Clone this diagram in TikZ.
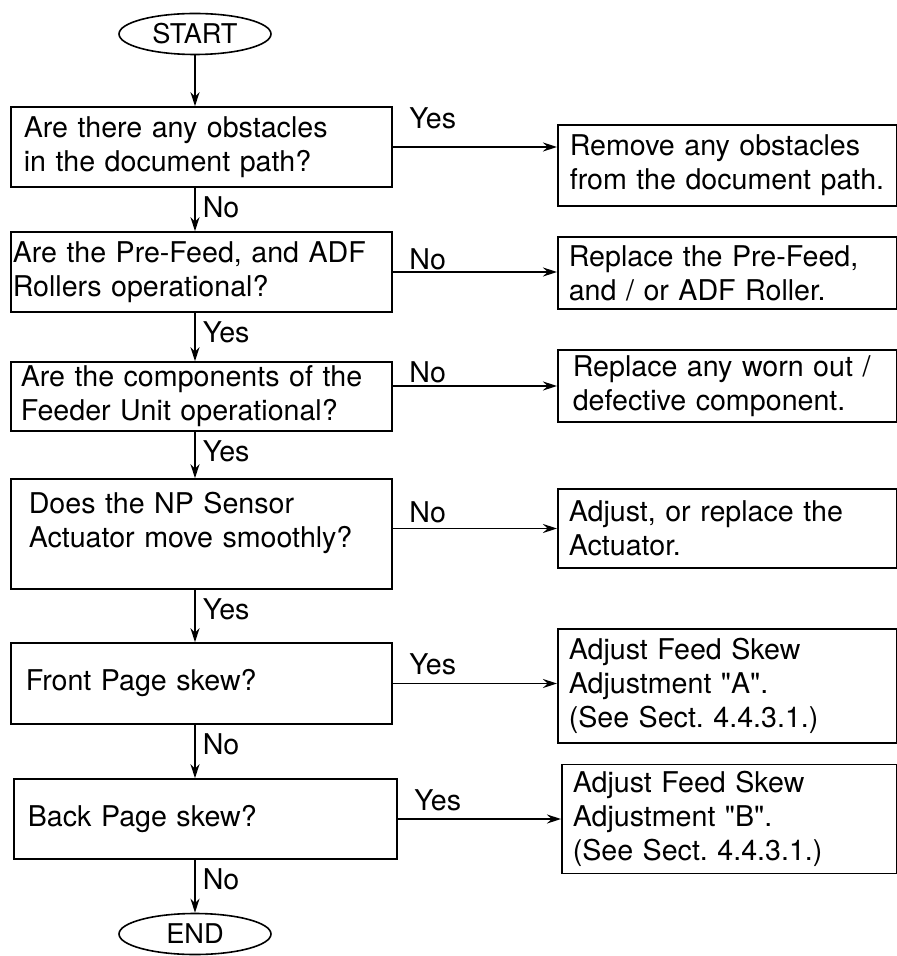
\documentclass[tikz,border=0pt]{standalone}
\usepackage{fontspec}
\setmainfont{TeX Gyre Heros}[Ligatures=TeXOff]
\usetikzlibrary{arrows.meta,shapes.geometric}
\frenchspacing
\begin{document}
\begin{tikzpicture}[x=0.5pt, y=-0.5pt, >={Stealth[length=7pt,width=4.5pt]}, line width=0.8pt,
  every node/.style={font=\fontsize{14.3}{17}\selectfont},
  term/.style={draw, ellipse, minimum width=76pt, minimum height=20.5pt, inner sep=0pt, font=\fontsize{13.6}{15}\selectfont},
  qbox/.style={draw, anchor=west, align=left, inner ysep=0pt},
  abox/.style={draw, anchor=west, align=left, inner ysep=0pt},
  vlbl/.style={pos=0, anchor=north west, inner sep=0pt, xshift=3.5pt, yshift=-4pt},
  hlbl/.style={pos=0, anchor=base west, inner sep=0pt, xshift=8pt}]
\useasboundingbox (0,0) rectangle (897,956);
% left column
\node[term] (start) at (195,34) {START};
\node[qbox, text width=177.5pt, inner xsep=6.5pt, minimum height=40pt] (q1) at (10,147) {Are there any obstacles\\in the document path?};
\node[qbox, text width=188.5pt, inner xsep=1pt, minimum height=40pt] (q2) at (10,272) {Are the Pre-Feed, and ADF\\Rollers operational?};
\node[qbox, text width=180.5pt, inner xsep=5pt, minimum height=34.5pt] (q3) at (10,396.5) {Are the components of the\\Feeder Unit operational?};
\node[qbox, text width=172.5pt, inner xsep=9pt, minimum height=55pt] (q4) at (10,534) {Does the NP Sensor\\Actuator move smoothly?\\[-3pt]\mbox{}};
\node[qbox, text width=175.5pt, inner xsep=7.5pt, minimum height=40.5pt] (q5) at (10,683.5) {Front Page skew?};
\node[qbox, text width=177.5pt, inner xsep=7pt, minimum height=40pt] (q6) at (13,819) {Back Page skew?};
\node[term] (stop) at (195,934) {END};
% right column
\node[abox, text width=157.5pt, inner xsep=6pt, minimum height=40.5pt] (a1) at (557,165.5) {Remove any obstacles\\from the document path.};
\node[abox, text width=158.5pt, inner xsep=5.5pt, minimum height=36pt] (a2) at (557,273) {Replace the Pre-Feed,\\and / or ADF Roller.};
\node[abox, text width=154.5pt, inner xsep=7.5pt, minimum height=36pt] (a3) at (557,386) {Replace any worn out /\\defective component.};
\node[abox, text width=158.5pt, inner xsep=5.5pt, minimum height=39.5pt] (a4) at (557,528.5) {Adjust, or replace the\\Actuator.};
\node[abox, text width=158.5pt, inner xsep=5.5pt, minimum height=57pt] (a5) at (557,686) {Adjust Feed Skew\\Adjustment "A".\\(See Sect. 4.4.3.1.)};
\node[abox, text width=156.5pt, inner xsep=5.5pt, minimum height=54.5pt] (a6) at (561,819) {Adjust Feed Skew\\Adjustment "B".\\(See Sect. 4.4.3.1.)};
% down the chart
\draw[->] (start.south) -- (start.south |- q1.north);
\draw[->] (q1.south -| start) -- node[vlbl] {No} (q2.north -| start);
\draw[->] (q2.south -| start) -- node[vlbl] {Yes} (q3.north -| start);
\draw[->] (q3.south -| start) -- node[vlbl] {Yes} (q4.north -| start);
\draw[->] (q4.south -| start) -- node[vlbl] {Yes} (q5.north -| start);
\draw[->] (q5.south -| start) -- node[vlbl] {No} (q6.north -| start);
\draw[->] (q6.south -| start) -- node[vlbl] {No} (stop.north);
% across to the actions
\draw[->] (q1.east) -- node[hlbl, yshift=9pt] {Yes} (q1.east -| a1.west);
\draw[->] (q2.east) -- node[hlbl, yshift=1pt] {No} (q2.east -| a2.west);
\draw[->] (a3.west -| q3.east) -- node[hlbl, yshift=2pt] {No} (a3.west);
\draw[->] (a4.west -| q4.east) -- node[hlbl, yshift=3pt] {No} (a4.west);
\draw[->] (q5.east) -- node[hlbl, yshift=4.5pt] {Yes} (q5.east -| a5.west);
\draw[->] (q6.east) -- node[hlbl, yshift=4.5pt] {Yes} (q6.east -| a6.west);
\end{tikzpicture}
\end{document}
